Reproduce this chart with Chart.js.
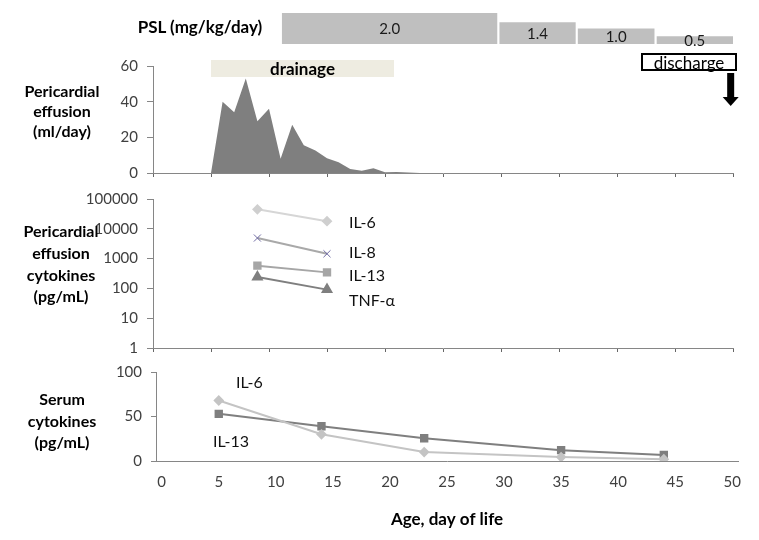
<!DOCTYPE html>
<html><head><meta charset="utf-8">
<script src="https://cdn.jsdelivr.net/npm/chart.js@4/dist/chart.umd.min.js"></script>
<style>
html,body{margin:0;padding:0;background:#fff}
body{width:759px;height:540px;position:relative;overflow:hidden;font-family:Lato,"Open Sans",sans-serif;color:#000}
canvas{position:absolute;left:0}
.t{position:absolute;white-space:nowrap;line-height:1}
.c{transform:translate(-50%,-50%)}
.l{transform:translate(0,-50%)}
.b{font-weight:bold}
.side{font-size:16px;font-weight:bold;text-align:center}
.lab{font-size:16px;color:#111}
#drain{position:absolute;left:211px;top:60px;width:183px;height:17px;background:#EEECE1;font-weight:bold;font-size:17px;text-align:center;line-height:17px}
#disc{position:absolute;left:641px;top:53px;width:92px;height:14px;border:2px solid #000;font-size:17px;text-align:center;line-height:15px;background:#fff}
</style></head><body>
<div class="t c b" style="left:200px;top:26px;font-size:17px">PSL (mg/kg/day)</div>

<div class="t c side" style="left:62px;top:91px">Pericardial</div>
<div class="t c side" style="left:62px;top:111px">effusion</div>
<div class="t c side" style="left:62px;top:131px">(ml/day)</div>

<div class="t c side" style="left:61px;top:231px">Pericardial</div>
<div class="t c side" style="left:61px;top:253px">effusion</div>
<div class="t c side" style="left:61px;top:275px">cytokines</div>
<div class="t c side" style="left:61px;top:296px">(pg/mL)</div>

<div class="t c side" style="left:62px;top:399px">Serum</div>
<div class="t c side" style="left:62px;top:421px">cytokines</div>
<div class="t c side" style="left:62px;top:442px">(pg/mL)</div>

<div id="drain">drainage</div>
<div id="disc">discharge</div>

<div class="t l lab" style="left:349px;top:222px">IL-6</div>
<div class="t l lab" style="left:349px;top:252px">IL-8</div>
<div class="t l lab" style="left:349px;top:275px">IL-13</div>
<div class="t l lab" style="left:349px;top:300px">TNF-α</div>

<div class="t l lab" style="left:236px;top:382px">IL-6</div>
<div class="t l lab" style="left:213px;top:441px">IL-13</div>

<script>
// ---------------- DATA ----------------
const dayTicks = [0, 5, 10, 15, 20, 25, 30, 35, 40, 45, 50];

// Prednisolone dose (mg/kg/day) periods
const pslDose  = [2.0, 1.4, 1.0, 0.5];
const pslStart = [11.1, 29.85, 36.6, 43.4];
const pslEnd   = [29.7, 36.45, 43.25, 50.0];

// Pericardial effusion drainage volume (ml/day)
const effusionDays = [5, 6, 7, 8, 9, 10, 11, 12, 13, 14, 15, 16, 17, 18, 19, 20, 21, 22, 23];
const effusionMl   = [0, 40, 34, 53, 29, 36, 8, 27, 15.5, 12.6, 8.3, 6, 2.3, 1.2, 2.6, 0.4, 0.5, 0.3, 0];
const effusionTicks = [0, 20, 40, 60];

// Pericardial effusion cytokines (pg/mL)
const pcDays  = [9, 15];
const pcIL6   = [45000, 18000];
const pcIL8   = [4900, 1450];
const pcIL13  = [580, 345];
const pcTNFa  = [240, 91];
const cytTicks = [1, 10, 100, 1000, 10000, 100000];

// Serum cytokines (pg/mL)
const serumDays = [5, 14, 23, 35, 44];
const serumIL6  = [68, 30, 10, 4.4, 2];
const serumIL13 = [53, 39, 25.6, 12.2, 6.7];
const serumTicks = [0, 50, 100];

// annotation: discharge arrow day
const dischargeDay = 49.8;

// ---------------- CHARTS ----------------
Chart.defaults.font.family = 'Lato, "Open Sans", sans-serif';
Chart.defaults.color = '#404040';
Chart.defaults.animation = false;
Chart.defaults.plugins.legend.display = false;
Chart.defaults.plugins.tooltip.enabled = false;

const AX = '#868686';
const pts = (xs, ys) => xs.map((x, i) => ({x: x, y: ys[i]}));
const setTicks = arr => (s => { s.ticks = arr.map(v => ({value: v})); });

function makeCanvas(top, height) {
  const c = document.createElement('canvas');
  c.width = 759; c.height = height;
  c.style.top = top + 'px';
  c.style.width = '759px'; c.style.height = height + 'px';
  document.body.insertBefore(c, document.body.firstChild);
  return c;
}

function yAxis(min, max, ticks, width, extra) {
  return Object.assign({
    min: min, max: max,
    afterBuildTicks: setTicks(ticks),
    afterFit: s => { s.width = width; },
    ticks: {font: {size: 15}, padding: 9, color: '#404040'},
    grid: {drawOnChartArea: false, tickLength: 6, color: AX},
    border: {color: AX, width: 1}
  }, extra || {});
}
function xAxisPlain(min, max, h) {
  return {
    type: 'linear', min: min, max: max,
    afterBuildTicks: setTicks(dayTicks),
    afterFit: s => { s.height = h; },
    ticks: {display: false},
    grid: {drawOnChartArea: false, tickLength: 4, color: '#666'},
    border: {color: AX, width: 1}
  };
}

// PSL bars
const pslLabels = {
  id: 'pslLabels',
  afterDatasetsDraw(chart) {
    const ctx = chart.ctx, xs = chart.scales.x, ys = chart.scales.y;
    ctx.save();
    ctx.font = '15px Lato, "Open Sans", sans-serif';
    ctx.fillStyle = '#1a1a1a';
    ctx.textAlign = 'center';
    ctx.textBaseline = 'middle';
    pslDose.forEach((d, i) => {
      const x = (xs.getPixelForValue(pslStart[i]) + xs.getPixelForValue(pslEnd[i])) / 2;
      ctx.fillText(d.toFixed(1), x, ys.getPixelForValue(d / 2) + 1);
    });
    ctx.restore();
  }
};
new Chart(makeCanvas(0, 50), {
  type: 'line',
  data: {datasets: pslDose.map((d, i) => ({
    data: [{x: pslStart[i], y: d}, {x: pslEnd[i], y: d}],
    fill: 'origin', backgroundColor: '#bfbfbf', borderWidth: 0, pointRadius: 0
  }))},
  options: {
    responsive: false, devicePixelRatio: 1,
    layout: {padding: {left: 153, right: 26, top: 13, bottom: 6}},
    scales: {x: {type: 'linear', display: false, min: 0, max: 50}, y: {display: false, min: 0, max: 2}}
  },
  plugins: [pslLabels]
});

// Panel 1: effusion area   (canvas 46..193, chart area 66..173)
const P1TOP = 46;
const arrowPlugin = {
  id: 'arrow',
  afterDraw(chart) {
    const ctx = chart.ctx;
    const x = chart.scales.x.getPixelForValue(dischargeDay);
    const o = 50 - P1TOP;
    ctx.save();
    ctx.fillStyle = '#000';
    ctx.fillRect(x - 3.5, 23 + o, 7, 24);
    ctx.beginPath();
    ctx.moveTo(x - 8, 47 + o); ctx.lineTo(x + 8, 47 + o); ctx.lineTo(x, 56 + o); ctx.closePath();
    ctx.fill();
    ctx.restore();
  }
};
new Chart(makeCanvas(P1TOP, 147), {
  type: 'line',
  data: {datasets: [{
    data: pts(effusionDays, effusionMl),
    fill: 'origin', backgroundColor: '#7f7f7f', borderWidth: 0, pointRadius: 0, tension: 0
  }]},
  options: {
    responsive: false, devicePixelRatio: 1,
    layout: {padding: {left: 0, right: 26, top: 20, bottom: 15}},
    scales: {
      x: xAxisPlain(0, 50, 5),
      y: yAxis(0, 60, effusionTicks, 153)
    }
  },
  plugins: [arrowPlugin]
});

// Panel 2: pericardial effusion cytokines (log)  (canvas 179..368, chart area 199..348)
new Chart(makeCanvas(179, 189), {
  type: 'line',
  data: {datasets: [
    {data: pts(pcDays, pcIL6), borderColor: '#d6d6d6', borderWidth: 2, pointStyle: 'rectRot', pointRadius: 4,
     pointBackgroundColor: '#cfcfcf', pointBorderColor: '#cfcfcf'},
    {data: pts(pcDays, pcIL8), borderColor: '#a9a9a9', borderWidth: 2, pointStyle: 'crossRot', pointRadius: 5,
     pointBorderColor: '#6f6aa3', pointBorderWidth: 1},
    {data: pts(pcDays, pcIL13), borderColor: '#a6a6a6', borderWidth: 2, pointStyle: 'rect', pointRadius: 4.5,
     pointBackgroundColor: '#a6a6a6', pointBorderColor: '#a6a6a6'},
    {data: pts(pcDays, pcTNFa), borderColor: '#7f7f7f', borderWidth: 2, pointStyle: 'triangle', pointRadius: 5,
     pointBackgroundColor: '#7f7f7f', pointBorderColor: '#7f7f7f'}
  ]},
  options: {
    responsive: false, devicePixelRatio: 1,
    layout: {padding: {left: 0, right: 26, top: 20, bottom: 15}},
    scales: {
      x: xAxisPlain(0, 50, 5),
      y: yAxis(1, 100000, cytTicks, 153, {type: 'logarithmic',
        ticks: {font: {size: 15}, padding: 9, color: '#404040', callback: v => String(v)}})
    }
  }
});

// Panel 3: serum cytokines  (canvas 352..540, chart area 372..461)
new Chart(makeCanvas(352, 188), {
  type: 'line',
  data: {datasets: [
    {data: pts(serumDays, serumIL6), borderColor: '#c4c4c4', borderWidth: 2, pointStyle: 'rectRot', pointRadius: 4,
     pointBackgroundColor: '#c4c4c4', pointBorderColor: '#c4c4c4'},
    {data: pts(serumDays, serumIL13), borderColor: '#7f7f7f', borderWidth: 2, pointStyle: 'rect', pointRadius: 4.5,
     pointBackgroundColor: '#7f7f7f', pointBorderColor: '#7f7f7f'}
  ]},
  options: {
    responsive: false, devicePixelRatio: 1,
    layout: {padding: {left: 0, right: 21, top: 20, bottom: 0}},
    scales: {
      x: {
        type: 'linear', min: -0.5, max: 50.5,
        afterBuildTicks: setTicks(dayTicks),
        afterFit: s => { s.height = 79; },
        ticks: {font: {size: 15}, padding: 12, color: '#404040', maxRotation: 0},
        grid: {drawOnChartArea: false, drawTicks: false},
        border: {color: AX, width: 1},
        title: {display: true, text: 'Age, day of life', color: '#000',
                font: {size: 17, weight: 'bold'}, padding: {top: 0, bottom: 10}}
      },
      y: yAxis(0, 100, serumTicks, 156, {grid: {drawOnChartArea: false, tickLength: 5, color: AX}})
    }
  }
});
</script>
</body></html>
